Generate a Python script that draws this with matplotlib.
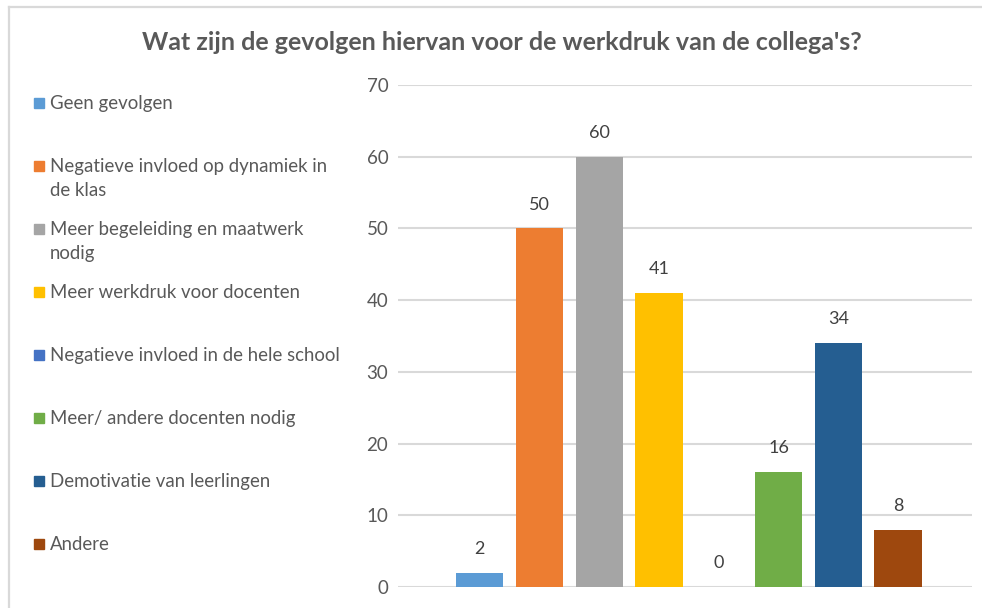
import matplotlib.pyplot as plt
from matplotlib.lines import Line2D
from matplotlib.patches import Rectangle

plt.rcParams['font.family'] = ['Lato', 'DejaVu Sans']

title = "Wat zijn de gevolgen hiervan voor de werkdruk van de collega's?"
labels = [
    "Geen gevolgen",
    "Negatieve invloed op dynamiek in\nde klas",
    "Meer begeleiding en maatwerk\nnodig",
    "Meer werkdruk voor docenten",
    "Negatieve invloed in de hele school",
    "Meer/ andere docenten nodig",
    "Demotivatie van leerlingen",
    "Andere",
]
values = [2, 50, 60, 41, 0, 16, 34, 8]
colors = ["#5B9BD5", "#ED7D31", "#A5A5A5", "#FFC000",
          "#4472C4", "#70AD47", "#255E91", "#9E480E"]
yticks = [0, 10, 20, 30, 40, 50, 60, 70]

W, H = 982, 608
fig = plt.figure(figsize=(W / 100, H / 100), dpi=100)

# chart area border (top and left only visible)
fig.add_artist(Line2D([8.5 / W, 8.5 / W], [0, 1 - 6.5 / H],
                      transform=fig.transFigure, color="#d9d9d9", lw=1.6))
fig.add_artist(Line2D([8.5 / W, 1], [1 - 6.5 / H, 1 - 6.5 / H],
                      transform=fig.transFigure, color="#d9d9d9", lw=1.6))

fig.text(502 / W, 1 - 42 / H, title, ha="center", va="center",
         fontsize=18, fontweight="bold", color="#595959")

ax = fig.add_axes([398 / W, 21 / H, 574 / W, 502 / H])
xs = list(range(len(values)))
ax.bar(xs, values, width=0.79, color=colors, zorder=3)
for x, v in zip(xs, values):
    ax.text(x, v + 2.2, str(v), ha="center", va="bottom",
            fontsize=13, color="#404040")

ax.set_xlim(-1.37, 8.24)
ax.set_ylim(0, 70)
ax.set_yticks(yticks)
ax.set_xticks([])
ax.grid(axis="y", color="#d9d9d9", lw=1.5, zorder=0)
for s in ax.spines.values():
    s.set_visible(False)
ax.tick_params(axis="y", length=0, pad=7, labelsize=13.5, labelcolor="#595959")

# legend on the left
for i, (lab, c) in enumerate(zip(labels, colors)):
    y = 103 + 63 * i
    fig.add_artist(Rectangle((34 / W, 1 - (y + 5) / H), 10 / W, 10 / H,
                             transform=fig.transFigure, color=c))
    fig.text(50 / W, 1 - (y - 8) / H, lab, ha="left", va="top",
             fontsize=13.4, color="#595959", linespacing=1.5)

fig.savefig("out.png", dpi=100)
